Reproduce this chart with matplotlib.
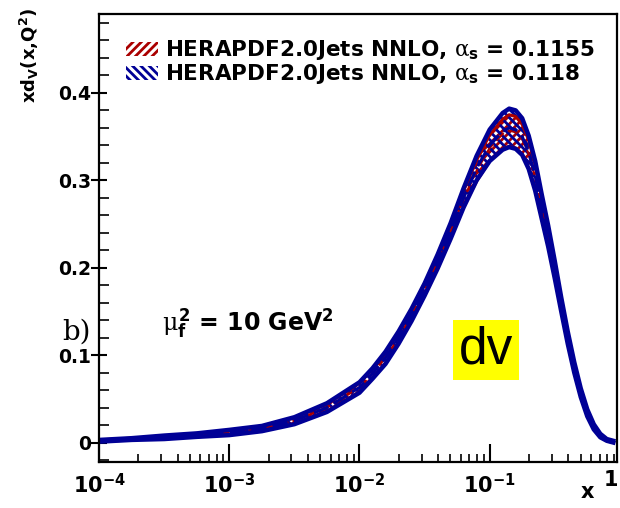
#!/usr/bin/env python3
import numpy as np
import matplotlib
matplotlib.use("Agg")
import matplotlib.pyplot as plt
from matplotlib.patches import Patch
from matplotlib.ticker import MultipleLocator, FixedLocator

plt.rcParams['font.family'] = ['DejaVu Sans']
plt.rcParams['mathtext.fontset'] = 'custom'
plt.rcParams['mathtext.rm'] = 'DejaVu Sans:bold'
plt.rcParams['mathtext.bf'] = 'DejaVu Sans:bold'
plt.rcParams['mathtext.it'] = 'DejaVu Serif'
plt.rcParams['hatch.linewidth'] = 2.0

# log10(x) sample points
logx = [-4.0, -3.75, -3.5, -3.25, -3.0, -2.75, -2.5, -2.25, -2.0, -1.9,
        -1.8, -1.7, -1.6, -1.5, -1.4, -1.3, -1.2, -1.1, -1.0, -0.9,
        -0.85, -0.8, -0.75, -0.7, -0.65, -0.6, -0.55, -0.5, -0.45, -0.4,
        -0.35, -0.3, -0.25, -0.2, -0.15, -0.1, -0.05]

# alpha_s = 0.118 (blue)
blue_c = [0.002, 0.004, 0.006, 0.0085, 0.0115, 0.016, 0.025, 0.040, 0.063, 0.079,
          0.097, 0.120, 0.146, 0.175, 0.207, 0.242, 0.280, 0.314, 0.340, 0.356,
          0.360, 0.358, 0.350, 0.332, 0.305, 0.270, 0.236, 0.198, 0.158, 0.120,
          0.086, 0.057, 0.034, 0.018, 0.008, 0.003, 0.001]
blue_e = [0.001, 0.001, 0.002, 0.002, 0.003, 0.003, 0.004, 0.005, 0.006, 0.006,
          0.007, 0.007, 0.007, 0.007, 0.008, 0.009, 0.011, 0.014, 0.018, 0.021,
          0.022, 0.022, 0.021, 0.019, 0.017, 0.014, 0.012, 0.010, 0.008, 0.007,
          0.006, 0.005, 0.004, 0.003, 0.002, 0.001, 0.001]

# alpha_s = 0.1155 (red)
red_c = [0.002, 0.004, 0.006, 0.0085, 0.0115, 0.016, 0.025, 0.040, 0.063, 0.079,
         0.097, 0.120, 0.146, 0.175, 0.207, 0.242, 0.279, 0.311, 0.337, 0.353,
         0.357, 0.355, 0.347, 0.330, 0.303, 0.269, 0.235, 0.198, 0.158, 0.120,
         0.086, 0.057, 0.034, 0.018, 0.008, 0.003, 0.001]
red_e = [0.001, 0.001, 0.001, 0.002, 0.002, 0.003, 0.003, 0.004, 0.005, 0.005,
         0.006, 0.006, 0.006, 0.006, 0.007, 0.008, 0.009, 0.012, 0.015, 0.017,
         0.018, 0.018, 0.017, 0.016, 0.014, 0.012, 0.010, 0.008, 0.007, 0.006,
         0.005, 0.004, 0.003, 0.002, 0.002, 0.001, 0.001]

x_ticks = [1e-4, 1e-3, 1e-2, 1e-1]
x_ticklabels = [r'$10^{-4}$', r'$10^{-3}$', r'$10^{-2}$', r'$10^{-1}$']
y_ticks = [0, 0.1, 0.2, 0.3, 0.4]
y_ticklabels = ['0', '0.1', '0.2', '0.3', '0.4']

RED = '#aa0000'
BLUE = '#000096'

x = 10.0 ** np.array(logx)

fig = plt.figure(figsize=(6.2, 5.08), dpi=100)
ax = fig.add_axes([0.160, 0.091, 0.835, 0.881])

for c, e, col, hatch, lw in [(red_c, red_e, RED, '////', 2.2),
                             (blue_c, blue_e, BLUE, '\\\\\\\\', 3.2)]:
    c = np.array(c)
    e = np.array(e)
    ax.fill_between(x, c - e, c + e, facecolor='none', edgecolor=col,
                    hatch=hatch, linewidth=0)
    ax.plot(x, c + e, color=col, lw=lw, solid_joinstyle='round')
    ax.plot(x, c - e, color=col, lw=lw, solid_joinstyle='round')
    ax.plot(x, c, color=col, lw=lw * 0.7, dashes=(5, 2))

ax.set_xscale('log')
ax.set_ylim(-0.022, 0.49)

ax.yaxis.set_major_locator(FixedLocator(y_ticks))
ax.set_yticklabels(y_ticklabels)
ax.yaxis.set_minor_locator(MultipleLocator(0.02))
ax.xaxis.set_major_locator(FixedLocator(x_ticks))
ax.set_xticklabels(x_ticklabels)
minor_x = [m * 10.0 ** d for d in range(-4, 0) for m in range(2, 10)]
ax.xaxis.set_minor_locator(FixedLocator(minor_x))
ax.set_xlim(1e-4, 0.95)

ax.tick_params(axis='y', which='major', direction='inout', length=12, width=1.5,
               labelsize=13.5, pad=0)
ax.tick_params(axis='y', which='minor', direction='in', length=7, width=1.2)
ax.tick_params(axis='x', which='major', direction='in', length=13, width=1.5,
               labelsize=15, pad=8)
ax.tick_params(axis='x', which='minor', direction='in', length=6, width=1.2)
for lab in ax.get_yticklabels():
    lab.set_fontweight('bold')
for s in ax.spines.values():
    s.set_linewidth(1.6)

# legend
h_red = Patch(facecolor='none', edgecolor=RED, hatch='////', linewidth=0)
h_blue = Patch(facecolor='none', edgecolor=BLUE, hatch='\\\\\\\\', linewidth=0)
ax.legend([h_red, h_blue],
          [r'HERAPDF2.0Jets NNLO, $\alpha_\mathrm{s}$ = 0.1155',
           r'HERAPDF2.0Jets NNLO, $\alpha_\mathrm{s}$ = 0.118'],
          loc='upper left', bbox_to_anchor=(0.035, 0.965), frameon=False,
          prop={'weight': 'bold', 'size': 15.5}, handlelength=1.5,
          handleheight=0.6, handletextpad=0.3, labelspacing=0.0,
          borderaxespad=0)

fig.text(0.048, 0.985, r'xd$_\mathrm{V}$(x,Q$^\mathrm{2}$)', rotation=90,
         ha='center', va='top', fontsize=13, fontweight='bold')
fig.text(0.947, 0.012, 'x', fontsize=15, fontweight='bold', ha='center',
         va='bottom')
fig.text(0.997, 0.035, '1', fontsize=15, fontweight='bold', ha='right',
         va='bottom')
fig.text(0.10, 0.32, 'b)', fontsize=20, family='DejaVu Serif', ha='left',
         va='bottom')
fig.text(0.262, 0.33, r'$\mu_\mathrm{f}^\mathrm{2}$ = 10 GeV$^\mathrm{2}$',
         fontsize=17, fontweight='bold', ha='left', va='bottom')
fig.text(0.784, 0.311, 'dv', fontsize=37, family='Liberation Sans',
         ha='center', va='center',
         bbox=dict(facecolor='#ffff00', edgecolor='none', pad=4))

fig.savefig('out.png', dpi=100)
